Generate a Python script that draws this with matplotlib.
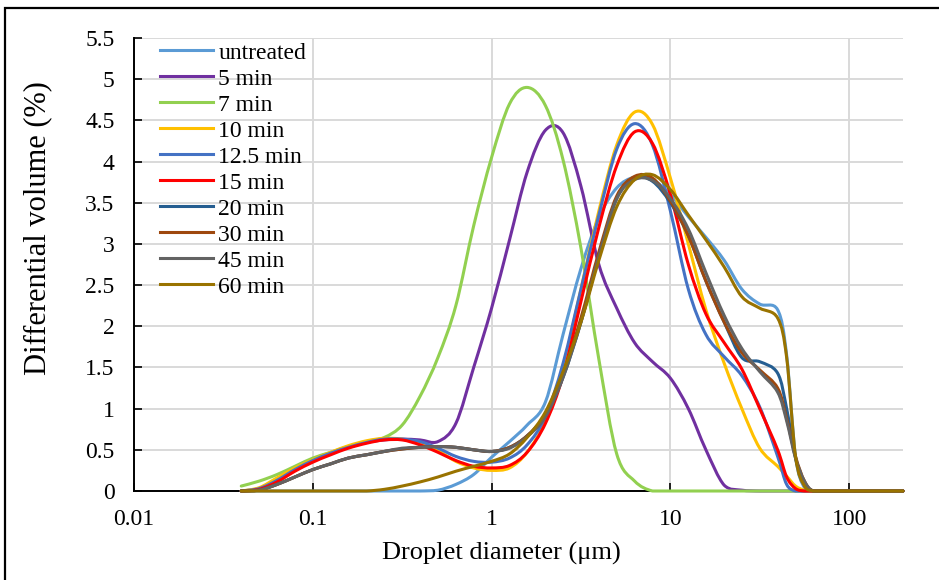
import numpy as np
import matplotlib
matplotlib.use("Agg")
import matplotlib.pyplot as plt
from matplotlib.path import Path
from matplotlib.patches import PathPatch, Rectangle
from matplotlib.lines import Line2D
from matplotlib.ticker import FixedLocator, NullLocator, FuncFormatter

plt.rcParams['font.family'] = ['Liberation Serif', 'DejaVu Serif']

# ---------------- data ----------------
diameter_um = [0.0398, 0.0501, 0.0631, 0.0794, 0.1, 0.126, 0.158, 0.2, 0.251, 0.316,
               0.398, 0.501, 0.631, 0.794, 1.0, 1.26, 1.58, 2.0, 2.51, 3.16,
               3.98, 5.01, 6.31, 7.94, 10.0, 12.6, 15.8, 20.0, 25.1, 31.6,
               39.8, 44.7, 50.1, 56.2, 63.1, 79.4, 100.0, 126.0, 158.0, 200.0]

series_labels = ["untreated", "5 min", "7 min", "10 min", "12.5 min",
                 "15 min", "20 min", "30 min", "45 min", "60 min"]

untreated = [0, 0, 0, 0, 0, 0, 0, 0, 0, 0,
             0, 0.01, 0.08, 0.2, 0.41, 0.6, 0.8, 1.08, 1.9, 2.7,
             3.32, 3.68, 3.81, 3.78, 3.6, 3.33, 3.08, 2.8, 2.45, 2.27,
             2.2, 1.65, 0.42, 0.04, 0, 0, 0, 0, 0, 0]

min5 = [0, 0.03, 0.13, 0.26, 0.37, 0.46, 0.53, 0.59, 0.62, 0.63,
        0.62, 0.6, 0.82, 1.5, 2.22, 3.05, 3.87, 4.38, 4.35, 3.7,
        2.75, 2.22, 1.8, 1.57, 1.37, 1.0, 0.5, 0.07, 0.01, 0,
        0, 0, 0, 0, 0, 0, 0, 0, 0, 0]

min7 = [0.06, 0.12, 0.2, 0.3, 0.4, 0.47, 0.54, 0.6, 0.65, 0.8,
        1.15, 1.62, 2.25, 3.22, 4.05, 4.7, 4.9, 4.68, 4.02, 2.95,
        1.6, 0.45, 0.12, 0, 0, 0, 0, 0, 0, 0,
        0, 0, 0, 0, 0, 0, 0, 0, 0, 0]

min10 = [0, 0.04, 0.16, 0.28, 0.38, 0.47, 0.55, 0.61, 0.64, 0.63,
         0.58, 0.49, 0.36, 0.28, 0.25, 0.28, 0.47, 0.85, 1.5, 2.45,
         3.4, 4.2, 4.6, 4.45, 3.8, 3.0, 2.2, 1.55, 1.0, 0.52,
         0.3, 0.18, 0.06, 0.01, 0, 0, 0, 0, 0, 0]

min12_5 = [0, 0.03, 0.13, 0.26, 0.37, 0.46, 0.53, 0.59, 0.63, 0.63,
           0.6, 0.52, 0.42, 0.36, 0.35, 0.4, 0.56, 0.9, 1.55, 2.45,
           3.35, 4.15, 4.46, 4.2, 3.4, 2.45, 1.9, 1.63, 1.4, 1.02,
           0.42, 0.08, 0, 0, 0, 0, 0, 0, 0, 0]

min15 = [0, 0.02, 0.11, 0.24, 0.35, 0.44, 0.52, 0.58, 0.62, 0.62,
         0.56, 0.47, 0.37, 0.3, 0.28, 0.31, 0.47, 0.82, 1.4, 2.3,
         3.2, 3.95, 4.36, 4.22, 3.6, 2.75, 2.15, 1.8, 1.48, 1.0,
         0.5, 0.17, 0.03, 0, 0, 0, 0, 0, 0, 0]

min20 = [0, 0.01, 0.08, 0.17, 0.26, 0.33, 0.4, 0.44, 0.48, 0.51,
         0.53, 0.54, 0.53, 0.5, 0.48, 0.53, 0.67, 0.92, 1.38, 2.05,
         2.85, 3.55, 3.8, 3.76, 3.5, 3.1, 2.55, 2.05, 1.62, 1.57,
         1.43, 1.0, 0.4, 0.1, 0, 0, 0, 0, 0, 0]

min30 = [0, 0.01, 0.08, 0.17, 0.26, 0.33, 0.4, 0.44, 0.48, 0.51,
         0.53, 0.54, 0.53, 0.5, 0.48, 0.53, 0.67, 0.93, 1.42, 2.1,
         2.9, 3.58, 3.82, 3.8, 3.52, 3.1, 2.55, 2.05, 1.68, 1.47,
         1.25, 0.88, 0.42, 0.12, 0, 0, 0, 0, 0, 0]

min45 = [0, 0.01, 0.08, 0.17, 0.26, 0.33, 0.4, 0.44, 0.48, 0.52,
         0.53, 0.54, 0.53, 0.5, 0.48, 0.52, 0.66, 0.9, 1.38, 2.05,
         2.85, 3.55, 3.78, 3.77, 3.55, 3.18, 2.65, 2.13, 1.73, 1.45,
         1.2, 0.85, 0.4, 0.12, 0, 0, 0, 0, 0, 0]

min60 = [0, 0, 0, 0, 0, 0, 0, 0, 0.02, 0.06,
         0.11, 0.17, 0.24, 0.3, 0.36, 0.45, 0.65, 0.96, 1.45, 2.05,
         2.8, 3.45, 3.78, 3.84, 3.66, 3.35, 3.05, 2.72, 2.36, 2.22,
         2.1, 1.62, 0.42, 0.06, 0, 0, 0, 0, 0, 0]

series_values = [untreated, min5, min7, min10, min12_5, min15, min20, min30, min45, min60]
series_colors = ["#5B9BD5", "#7030A0", "#92D050", "#FFC000", "#4472C4",
                 "#FF0000", "#255E91", "#9E480E", "#636363", "#997300"]

x_tick_values = [0.01, 0.1, 1, 10, 100]
x_tick_labels = ["0.01", "0.1", "1", "10", "100"]
y_tick_values = [0, 0.5, 1, 1.5, 2, 2.5, 3, 3.5, 4, 4.5, 5, 5.5]


def smooth_path(xs, ys):
    """Excel-like smoothed line: Catmull-Rom through the data points (in log-x space)
    expressed as cubic Bezier segments; the data points themselves are the vertices."""
    lx = np.log10(np.asarray(xs, float))
    y = np.asarray(ys, float)
    px = np.concatenate([[lx[0]], lx, [lx[-1]]])
    py = np.concatenate([[y[0]], y, [y[-1]]])
    verts = [(xs[0], ys[0])]
    codes = [Path.MOVETO]
    for i in range(len(lx) - 1):
        c1x = px[i + 1] + (px[i + 2] - px[i]) / 6
        c1y = py[i + 1] + (py[i + 2] - py[i]) / 6
        c2x = px[i + 2] - (px[i + 3] - px[i + 1]) / 6
        c2y = py[i + 2] - (py[i + 3] - py[i + 1]) / 6
        verts += [(10 ** c1x, max(c1y, 0)), (10 ** c2x, max(c2y, 0)), (xs[i + 1], ys[i + 1])]
        codes += [Path.CURVE4] * 3
    return Path(verts, codes)


fig = plt.figure(figsize=(9.39, 5.80), dpi=100)
ax = fig.add_axes([134 / 939, 1 - 491 / 580, (903 - 134) / 939, (491 - 38) / 580])
ax.set_xscale('log')
ax.set_xlim(0.01, 200)
ax.set_ylim(0, 5.5)

ax.xaxis.set_major_locator(FixedLocator(x_tick_values))
ax.xaxis.set_minor_locator(NullLocator())
ax.set_xticklabels(x_tick_labels)
ax.yaxis.set_major_locator(FixedLocator(y_tick_values))
ax.yaxis.set_major_formatter(FuncFormatter(lambda v, p: f"{v:g}"))

ax.grid(True, color='#D9D9D9', lw=1.4)
ax.set_axisbelow(True)
for s in ['top', 'right']:
    ax.spines[s].set_visible(False)
for s in ['left', 'bottom']:
    ax.spines[s].set_color('black')
    ax.spines[s].set_linewidth(1.4)

ax.tick_params(axis='both', direction='in', length=5.5, width=1.2, colors='black',
               labelsize=17)
ax.tick_params(axis='x', pad=13)
ax.tick_params(axis='y', pad=14)

for vals, col in zip(series_values, series_colors):
    patch = PathPatch(smooth_path(diameter_um, vals), fill=False, edgecolor=col,
                      lw=2.2, capstyle='round', joinstyle='round', zorder=3, clip_on=False)
    ax.add_patch(patch)

handles = [Line2D([], [], color=c, lw=2.2) for c in series_colors]
ax.legend(handles, series_labels, loc='upper left',
          bbox_to_anchor=((160 - 134) / 769, 1.0 - 4 / 453),
          frameon=False, fontsize=17, handlelength=2.25, handletextpad=0.22,
          labelspacing=0.19, borderpad=0, borderaxespad=0)

fig.text(501 / 939, 1 - 553 / 580, 'Droplet diameter (μm)', ha='center', va='center', fontsize=19)
fig.text(38 / 939, 1 - 228 / 580, 'Differential volume (%)', ha='center', va='center',
         rotation=90, fontsize=22)

fig.add_artist(Rectangle((5 / 939, -0.1), 2.0, 1.1 - 8 / 580, transform=fig.transFigure,
                         fill=False, edgecolor='black', lw=1.6))

fig.savefig('out.png', dpi=100)
